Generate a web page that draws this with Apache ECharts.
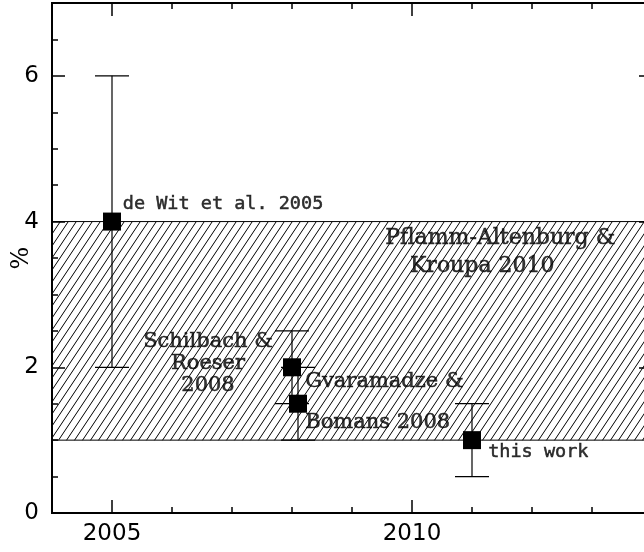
<!DOCTYPE html>
<html>
<head>
    <meta charset="UTF-8">
    <title>fraction plot</title>
    <script src="https://cdn.jsdelivr.net/npm/echarts@6/dist/echarts.min.js"></script>
    <style>
        html, body { margin: 0; padding: 0; background: #fff; }
    </style>
</head>
<body>

<div id="main" style="width: 644px;height:552px"></div>

<script type="text/javascript">
    // measurements
    var years    = [2005, 2008, 2008.1, 2011];
    var percent  = [4, 2, 1.5, 1];
    var errLow   = [2, 1.5, 1.0, 0.5];
    var errHigh  = [6, 2.5, 2.0, 1.5];
    // shaded range (Pflamm-Altenburg & Kroupa 2010)
    var bandRange = [1, 4];
    // tick labels
    var xMajorTicks = [2005, 2010];
    var yMajorTicks = [0, 2, 4, 6];
    // annotations
    var noteText = ['de Wit et al. 2005', 'Pflamm-Altenburg &', 'Kroupa 2010',
                    'Schilbach &\nRoeser\n2008', 'Gvaramadze &', 'Bomans 2008', 'this work'];
    var noteX    = [2005.18, 2011.47, 2011.17, 2006.6, 2008.22, 2008.22, 2011.27];
    var noteY    = [4.24, 3.77, 3.38, 2.045, 1.80, 1.235, 0.84];
    var noteAlign = ['left', 'center', 'center', 'center', 'left', 'left', 'left'];
    var noteMono  = [true, false, false, false, false, false, true];

    var tickFont = 'DejaVu Sans';
    var serifFont = 'DejaVu Serif';
    var monoFont = 'DejaVu Sans Mono';

    // hatch pattern
    var hatch = document.createElement('canvas');
    hatch.width = 8; hatch.height = 12;
    var hc = hatch.getContext('2d');
    hc.strokeStyle = '#000';
    hc.lineWidth = 1;
    [-8, 0, 8].forEach(function (dx) {
        hc.beginPath();
        hc.moveTo(dx, 12);
        hc.lineTo(dx + 8, 0);
        hc.stroke();
    });

    var pointData = years.map(function (x, i) { return [x, percent[i]]; });
    var errData = years.map(function (x, i) { return [x, errLow[i], errHigh[i]]; });
    var noteData = noteText.map(function (t, i) {
        return {
            value: [noteX[i], noteY[i]],
            label: {
                formatter: t,
                align: noteAlign[i],
                fontFamily: noteMono[i] ? monoFont : serifFont,
                fontSize: noteMono[i] ? 18.5 : (i === 1 || i === 2 ? 22 : 21),
                textBorderColor: '#000',
                textBorderWidth: 0.5,
                lineHeight: 22
            }
        };
    });

    var axisBase = function (extra) {
        var a = {
            type: 'value',
            axisLine: { show: true, onZero: false, lineStyle: { color: '#000', width: 2 } },
            axisTick: { inside: true, lineStyle: { color: '#000', width: 1.5 } },
            axisLabel: { show: false },
            splitLine: { show: false }
        };
        for (var k in extra) {
            if (typeof extra[k] === 'object' && a[k] && !Array.isArray(extra[k])) {
                for (var j in extra[k]) a[k][j] = extra[k][j];
            } else {
                a[k] = extra[k];
            }
        }
        return a;
    };

    var plain = function (v) { return String(v); };

    var myChart = echarts.init(document.getElementById('main'), null, { renderer: 'canvas' });
    var option = {
        backgroundColor: '#fff',
        animation: false,
        grid: { left: 52, right: -8, top: 3, bottom: 39, containLabel: false, outerBoundsMode: 'none' },
        xAxis: [
            axisBase({ position: 'bottom', min: 2004, max: 2014, interval: 1,
                axisTick: { length: 6 } }),
            axisBase({ position: 'bottom', min: 2004, max: 2014,
                axisTick: { length: 13, customValues: xMajorTicks },
                axisLabel: { show: true, customValues: xMajorTicks, color: '#000', formatter: plain,
                    fontFamily: tickFont, fontSize: 23, margin: 10 } }),
            axisBase({ position: 'top', min: 2004, max: 2014, interval: 1,
                axisTick: { length: 6 } }),
            axisBase({ position: 'top', min: 2004, max: 2014,
                axisTick: { length: 13, customValues: xMajorTicks } })
        ],
        yAxis: [
            axisBase({ position: 'left', min: 0, max: 7, interval: 0.5,
                axisTick: { length: 6 } }),
            axisBase({ position: 'left', min: 0, max: 7,
                axisTick: { length: 13, customValues: yMajorTicks },
                axisLabel: { show: true, customValues: yMajorTicks, color: '#000', formatter: plain,
                    fontFamily: tickFont, fontSize: 23, margin: 13 },
                name: '%', nameLocation: 'middle', nameGap: 30, nameRotate: 90,
                nameMoveOverlap: false,
                nameTextStyle: { color: '#000', fontFamily: serifFont, fontSize: 24,
                    align: 'center', verticalAlign: 'middle' } }),
            axisBase({ position: 'right', min: 0, max: 7, interval: 0.5,
                axisTick: { length: 6 } }),
            axisBase({ position: 'right', min: 0, max: 7,
                axisTick: { length: 13, customValues: yMajorTicks } })
        ],
        series: [
            {
                name: 'band',
                type: 'line',
                data: [],
                markArea: {
                    silent: true,
                    itemStyle: {
                        color: { image: hatch, repeat: 'repeat' },
                        borderColor: '#000',
                        borderWidth: 1
                    },
                    data: [[{ yAxis: bandRange[0] }, { yAxis: bandRange[1] }]]
                },
                z: 1
            },
            {
                name: 'errors',
                type: 'custom',
                data: errData,
                encode: { x: 0, y: [1, 2] },
                renderItem: function (params, api) {
                    var x = api.value(0);
                    var top = api.coord([x, api.value(2)]);
                    var bot = api.coord([x, api.value(1)]);
                    var w = 17;
                    var st = { stroke: '#000', lineWidth: 1.2 };
                    return {
                        type: 'group',
                        children: [
                            { type: 'line', shape: { x1: top[0], y1: top[1], x2: bot[0], y2: bot[1] }, style: st },
                            { type: 'line', shape: { x1: top[0] - w, y1: top[1], x2: top[0] + w, y2: top[1] }, style: st },
                            { type: 'line', shape: { x1: bot[0] - w, y1: bot[1], x2: bot[0] + w, y2: bot[1] }, style: st }
                        ]
                    };
                },
                z: 3
            },
            {
                name: 'points',
                type: 'scatter',
                data: pointData,
                symbol: 'rect',
                symbolSize: 18,
                itemStyle: { color: '#000', opacity: 1 },
                z: 4
            },
            {
                name: 'notes',
                type: 'scatter',
                data: noteData,
                symbolSize: 0,
                label: {
                    show: true,
                    position: 'inside',
                    verticalAlign: 'middle',
                    color: '#000'
                },
                z: 5
            }
        ]
    };
    myChart.setOption(option);
</script>
</body>
</html>
